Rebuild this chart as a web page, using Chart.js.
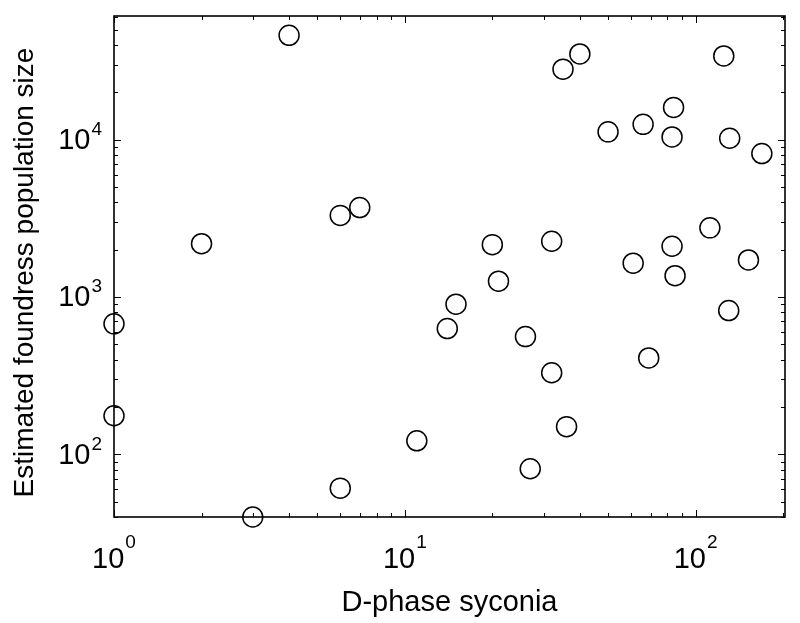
<!DOCTYPE html>
<html>
<head>
<meta charset="utf-8">
<script src="https://cdn.jsdelivr.net/npm/chart.js"></script>
<style>
html, body { margin: 0; padding: 0; background: #fff; }
#wrap { width: 800px; height: 623px; }
</style>
</head>
<body>
<div id="wrap"><canvas id="myChart"></canvas></div>
<script>
// D-phase syconia vs estimated foundress population size (log-log)
var dPhase    = [1, 1, 2, 3, 4, 6, 7, 6, 11, 14, 15, 20, 21, 26, 27, 32, 32, 35, 36, 40,
                 50, 61, 66, 69, 83, 84, 83, 85, 112, 125, 130, 131, 152, 169];
var foundress = [675, 176, 2180, 40, 46000, 3300, 3700, 61, 122, 630, 900, 2150, 1260, 560, 81, 2260, 330, 28000, 150, 35000,
                 11200, 1640, 12500, 410, 10400, 16000, 2100, 1365, 2750, 34000, 820, 10200, 1720, 8150];

var xTickValues = [1, 10, 100];
var xTickExps = ["0", "1", "2"];
var yTickValues = [100, 1000, 10000];
var yTickExps = ["2", "3", "4"];

var xTitle = "D-phase syconia";
var yTitle = "Estimated foundress population size";

var FONT = "'Liberation Sans', Arial, sans-serif";

var points = dPhase.map(function (x, i) {
    return { x: x, y: foundress[i] };
});

function minorValues(min, max) {
    var out = [];
    for (var d = Math.floor(Math.log10(min)); d <= Math.ceil(Math.log10(max)); d++) {
        for (var k = 1; k <= 9; k++) {
            var v = k * Math.pow(10, d);
            if (v >= min && v <= max) out.push({ v: v, major: k === 1 });
        }
    }
    return out;
}

function powLabel(ctx, exp, x, base, expBase, align) {
    ctx.font = "29px " + FONT;
    var w1 = ctx.measureText("10").width;
    ctx.font = "19px " + FONT;
    var w2 = ctx.measureText(exp).width;
    var start = align === "center" ? x - (w1 + w2 + 1) / 2 : x - (w1 + w2 + 1);
    ctx.textAlign = "left";
    ctx.textBaseline = "alphabetic";
    ctx.font = "29px " + FONT;
    ctx.fillText("10", start, base);
    ctx.font = "19px " + FONT;
    ctx.fillText(exp, start + w1 + 1, expBase);
}

var frame = {
    id: "frame",
    afterDatasetsDraw: function (chart) {
        var ctx = chart.ctx;
        var a = chart.chartArea;
        var xs = chart.scales.x, ys = chart.scales.y;
        ctx.save();
        ctx.strokeStyle = "#000";
        ctx.fillStyle = "#000";
        ctx.lineWidth = 1;
        minorValues(xs.min, xs.max).forEach(function (t) {
            var px = Math.round(xs.getPixelForValue(t.v)) + 0.5;
            var len = t.major ? 7 : 4;
            ctx.beginPath();
            ctx.moveTo(px, a.bottom); ctx.lineTo(px, a.bottom - len);
            ctx.moveTo(px, a.top); ctx.lineTo(px, a.top + len);
            ctx.stroke();
        });
        minorValues(ys.min, ys.max).forEach(function (t) {
            var py = Math.round(ys.getPixelForValue(t.v)) + 0.5;
            var len = t.major ? 7 : 4;
            ctx.beginPath();
            ctx.moveTo(a.left, py); ctx.lineTo(a.left + len, py);
            ctx.moveTo(a.right, py); ctx.lineTo(a.right - len, py);
            ctx.stroke();
        });
        ctx.lineWidth = 1.6;
        ctx.strokeRect(a.left, a.top, a.right - a.left, a.bottom - a.top);

        xTickValues.forEach(function (v, i) {
            var px = xs.getPixelForValue(v);
            powLabel(ctx, xTickExps[i], px, a.bottom + 51, a.bottom + 31, "center");
        });
        yTickValues.forEach(function (v, i) {
            var py = ys.getPixelForValue(v);
            powLabel(ctx, yTickExps[i], a.left - 12, py + 9.5, py - 4.5, "right");
        });

        ctx.font = "29px " + FONT;
        ctx.textAlign = "center";
        ctx.textBaseline = "alphabetic";
        ctx.fillText(xTitle, (a.left + a.right) / 2, 611);

        ctx.save();
        ctx.translate(33, (a.top + a.bottom) / 2 + 6);
        ctx.rotate(-Math.PI / 2);
        ctx.font = "28px " + FONT;
        ctx.fillText(yTitle, 0, 0);
        ctx.restore();
        ctx.restore();
    }
};

new Chart("myChart", {
    type: "scatter",
    data: {
        datasets: [{
            data: points,
            pointStyle: "circle",
            pointRadius: 10,
            pointHoverRadius: 10,
            borderWidth: 1.5,
            borderColor: "#000",
            backgroundColor: "rgba(0,0,0,0)",
            clip: false
        }]
    },
    options: {
        responsive: true,
        maintainAspectRatio: false,
        animation: false,
        layout: { padding: { top: 16, right: 15, left: 0, bottom: 0 } },
        plugins: {
            legend: { display: false },
            tooltip: { enabled: false }
        },
        scales: {
            x: {
                type: "logarithmic",
                min: 1,
                max: 203,
                grid: { display: false },
                border: { display: false },
                ticks: { display: false },
                afterFit: function (s) { s.height = 106; }
            },
            y: {
                type: "logarithmic",
                min: 40,
                max: 61000,
                grid: { display: false },
                border: { display: false },
                ticks: { display: false },
                afterFit: function (s) { s.width = 114; }
            }
        }
    },
    plugins: [frame]
});
</script>
</body>
</html>
